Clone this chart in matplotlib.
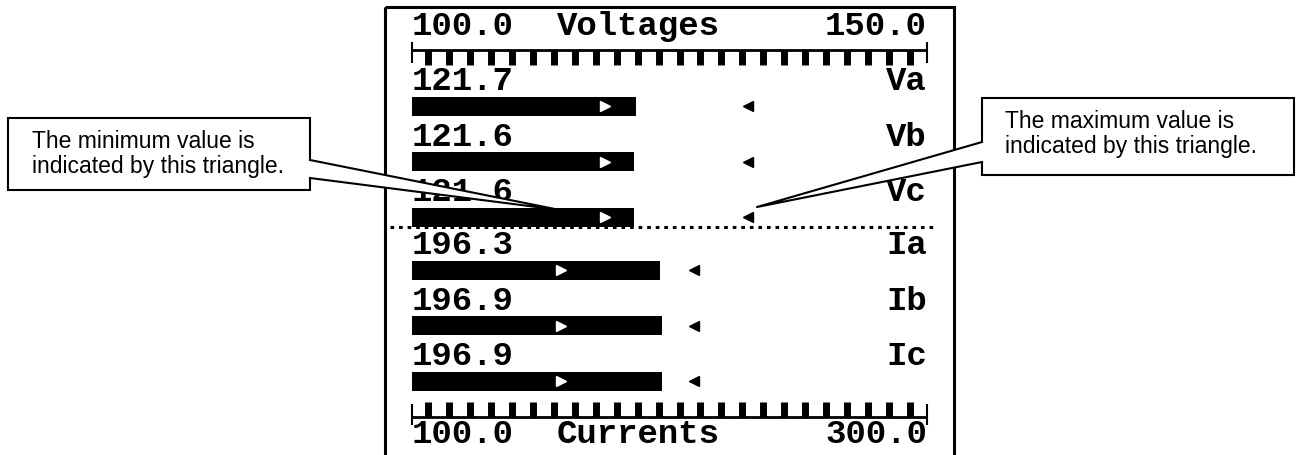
import numpy as np
import matplotlib
matplotlib.use("Agg")
import matplotlib.pyplot as plt
import matplotlib.transforms as mtransforms
from matplotlib.patches import Rectangle, Polygon

# =============================================================================
# Data read off the meter display
# =============================================================================
volt_names = ["Va", "Vb", "Vc"]
volt_values = [121.7, 121.6, 121.6]
volt_min = [118.7, 118.7, 118.7]
volt_max = [132.6, 132.6, 132.6]
volt_scale = (100.0, 150.0)
volt_title = "Voltages"

curr_names = ["Ia", "Ib", "Ic"]
curr_values = [196.3, 196.9, 196.9]
curr_min = [157.9, 157.9, 157.9]
curr_max = [209.5, 209.5, 209.5]
curr_scale = (100.0, 300.0)
curr_title = "Currents"

min_note = ["The minimum value is", "indicated by this triangle."]
max_note = ["The maximum value is", "indicated by this triangle."]

# =============================================================================
# Layout (pixels)
# =============================================================================
W, H = 1298, 455
GX0, GX1 = 412, 927          # gauge scale left / right
LCD_FONT = dict(family="Liberation Mono", fontsize=24.5, color="black", weight="bold")
NOTE_FONT = dict(family="Liberation Sans", fontsize=16.5, color="black")
TICK_FRACS = (16 + 20.96 * np.arange(24)) / (GX1 - GX0)

fig = plt.figure(figsize=(W / 100, H / 100), dpi=100)


def pixel_axes(x0, x1, z):
    ax = fig.add_axes([x0 / W, 0, (x1 - x0) / W, 1], zorder=z)
    ax.set_ylim(H, 0)
    ax.axis("off")
    ax.patch.set_visible(False)
    return ax


# background: LCD frame and the dotted separator
bg = pixel_axes(0, W, 0)
bg.set_xlim(0, W)
bg.add_patch(Rectangle((384.5, 6.5), 569, 480, fc="none", ec="black", lw=2.2, clip_on=False))
bg.plot([390, 937], [227, 227], color="black", lw=2.2, ls=(0, (1.2, 1.6)))


# gauge block: ruler, title line, rows of bars with min / max markers
def gauge(names, values, mins, maxs, scale, title, rows_y, ruler_y, tick_dir, title_y):
    ax = pixel_axes(GX0, GX1, 1)
    ax.set_xlim(scale)
    trans = mtransforms.blended_transform_factory(ax.transAxes, ax.transData)

    ax.barh(rows_y, np.array(values) - scale[0], left=scale[0], height=19, color="black")
    ax.plot(mins, rows_y, ls="None", marker=">", color="white", ms=6.5)
    ax.plot(maxs, rows_y, ls="None", marker="<", color="black", ms=6.5)
    for y, v, n in zip(rows_y, values, names):
        ax.text(scale[0], y - 16, f"{v:.1f}", ha="left", va="baseline", **LCD_FONT)
        ax.text(scale[1], y - 16, n, ha="right", va="baseline", **LCD_FONT)

    # ruler
    ax.plot([0, 1], [ruler_y, ruler_y], transform=trans, color="black", lw=2,
            solid_capstyle="butt", clip_on=False)
    ax.vlines(TICK_FRACS, ruler_y, ruler_y + 15 * tick_dir, transform=trans,
              color="black", lw=5, capstyle="butt", clip_on=False)
    ax.vlines([0, 1], ruler_y - 8 * tick_dir, ruler_y + 13 * tick_dir, transform=trans,
              color="black", lw=1.5, clip_on=False)

    ax.text(0, title_y, f"{scale[0]:.1f}", transform=trans, ha="left", va="baseline", **LCD_FONT)
    ax.text(0.439, title_y, title, transform=trans, ha="center", va="baseline", **LCD_FONT)
    ax.text(1, title_y, f"{scale[1]:.1f}", transform=trans, ha="right", va="baseline", **LCD_FONT)
    return ax


gauge(volt_names, volt_values, volt_min, volt_max, volt_scale, volt_title,
      [106, 161.5, 217], 50, 1, 35)
gauge(curr_names, curr_values, curr_min, curr_max, curr_scale, curr_title,
      [270, 325.5, 381], 417, -1, 443)

# callouts on top
top = pixel_axes(0, W, 5)
top.set_xlim(0, W)


def callout(box, side_x, ya, yb, tip, lines, text_x, baselines):
    x0, y0, x1, y1 = box
    top.add_patch(Rectangle((x0, y0), x1 - x0, y1 - y0, fc="white", ec="black", lw=1.5))
    d = 3 if side_x == x1 else -3
    top.add_patch(Polygon([(side_x - d, ya), (side_x, ya), tip, (side_x, yb), (side_x - d, yb)],
                          closed=True, fc="white", ec="none"))
    top.plot([side_x, tip[0], side_x], [ya, tip[1], yb], color="black", lw=1.5)
    for s, b in zip(lines, baselines):
        top.text(text_x, b, s, ha="left", va="baseline", **NOTE_FONT)


callout((8, 118, 310, 190), 310, 160, 178, (560, 210), min_note, 32, [148, 173])
callout((982, 98, 1294, 175), 982, 142, 162, (757, 207), max_note, 1005, [128, 153])

fig.savefig("out.png", dpi=100)
